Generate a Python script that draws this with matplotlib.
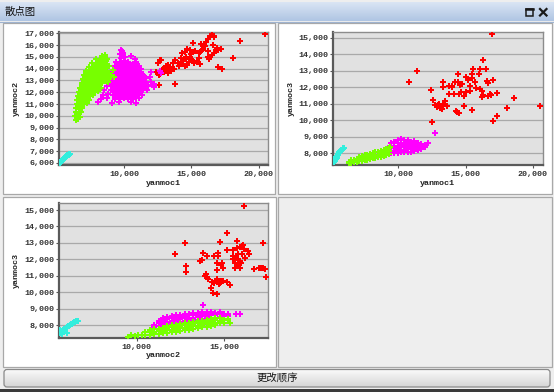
import matplotlib
matplotlib.use('Agg')
import matplotlib.pyplot as plt
from matplotlib.patches import Rectangle, FancyBboxPatch
from matplotlib.colors import LinearSegmentedColormap
import numpy as np

plt.rcParams['font.family'] = ['Noto Sans CJK SC', 'DejaVu Sans']

# ---------------- data ----------------
window_title = '散点图'
button_text = '更改顺序'
var_names = ['yanmoc1', 'yanmoc2', 'yanmoc3']

colors = {'red': '#ff0000', 'magenta': '#ff00ff', 'green': '#77ff00', 'cyan': '#33eedd'}

# Panel 1: yanmoc1 (x) vs yanmoc2 (y)
p1_cyan = [(5230,6000),(5260,6050),(5300,6080),(5330,6130),(5370,6170),(5400,6200),(5440,6250),
           (5470,6290),(5510,6330),(5540,6360),(5580,6400),(5620,6450),(5650,6480),(5690,6520),
           (5720,6560),(5760,6600),(5800,6640),(5840,6680),(5880,6720),(5920,6750),(5960,6790),
           (5250,6040),(5350,6110),(5450,6230),(5560,6390)]
p1_green = [(6400,9650),(6560,9700),(6380,9950),(6600,10000),(6740,9900),
            (6420,10300),(6650,10280),(6800,10350),(6500,10150),
            (6450,10650),(6700,10600),(6900,10700),(6600,10850),(6850,10850),
            (6480,11000),(6760,11050),(7000,10980),(7250,11100),
            (6520,11350),(6800,11300),(7100,11400),(7400,11350),
            (6650,11525),(6950,11525),(7250,11525),
            (6580,11700),(6850,11750),(7150,11650),(7450,11700),(7700,11750),
            (6750,11875),(7000,11875),(7300,11875),(7600,11875),
            (6650,12050),(6950,12000),(7250,12100),(7550,12050),(7850,12000),(8100,12100),
            (6850,12225),(7150,12225),(7450,12225),(7750,12225),(8000,12225),
            (6750,12400),(7050,12450),(7350,12350),(7650,12400),(7950,12450),(8300,12400),
            (6900,12575),(7200,12575),(7500,12575),(7800,12575),(8150,12575),
            (6850,12750),(7150,12800),(7450,12700),(7750,12750),(8050,12800),(8400,12750),(8800,12850),
            (7000,12925),(7300,12925),(7600,12925),(7900,12925),(8250,12925),(8650,12925),
            (6950,13100),(7250,13050),(7550,13150),(7850,13100),(8150,13050),(8500,13150),(8900,13100),
            (7150,13275),(7400,13275),(7700,13275),(8000,13275),(8350,13275),(8750,13275),
            (7050,13450),(7350,13500),(7650,13400),(7950,13450),(8250,13500),(8600,13400),(9000,13500),
            (7300,13625),(7600,13625),(7900,13625),(8200,13625),(8500,13625),(8850,13625),
            (7200,13800),(7500,13850),(7800,13750),(8100,13800),(8400,13850),(8750,13800),
            (7550,13975),(7850,13975),(8150,13975),(8450,13975),
            (7400,14150),(7700,14100),(8000,14200),(8300,14150),(8600,14100),(8900,14200),
            (7800,14325),(8100,14325),(8400,14325),(8700,14325),
            (7650,14500),(7950,14450),(8250,14550),(8550,14500),
            (8050,14675),(8350,14675),(8650,14675),
            (7900,14850),(8200,14800),(8500,14900),(8750,14850),
            (8600,15150),(8400,15050),(9250,13300),(9200,13900)]
p1_magenta = [(9750,15600),(9880,15500),(9700,15250),(9950,15300),
              (9750,14900),(10050,14950),(10550,15050),(10800,14850),
              (9400,14600),(9700,14550),(10000,14650),(10300,14600),(10900,14550),
              (9450,14425),(9750,14425),(10050,14425),(10350,14425),(10650,14425),(10950,14425),
              (9300,14250),(9600,14300),(9900,14200),(10200,14250),(10500,14300),(10800,14200),(11100,14250),
              (9300,14075),(9600,14075),(9900,14075),(10200,14075),(10500,14075),(10800,14075),(11100,14075),
              (9150,13900),(9450,13950),(9750,13850),(10050,13900),(10350,13950),(10650,13850),(10950,13900),(11250,13950),
              (9150,13725),(9450,13725),(9750,13725),(10050,13725),(10350,13725),(10650,13725),(10950,13725),(11250,13725),
              (9000,13550),(9300,13600),(9600,13500),(9900,13550),(10200,13600),(10500,13500),(10800,13550),(11100,13600),(11400,13500),
              (9050,13375),(9350,13375),(9650,13375),(9950,13375),(10250,13375),(10550,13375),(10850,13375),(11150,13375),(11450,13375),
              (8900,13200),(9200,13250),(9500,13150),(9800,13200),(10100,13250),(10400,13150),(10700,13200),(11000,13250),(11300,13150),(11600,13200),
              (9100,13025),(9400,13025),(9700,13025),(10000,13025),(10300,13025),(10600,13025),(10900,13025),(11200,13025),(11500,13025),
              (8950,12850),(9250,12900),(9550,12800),(9850,12850),(10150,12900),(10450,12800),(10750,12850),(11050,12900),(11350,12800),(11650,12850),(12000,12900),
              (9250,12675),(9550,12675),(9850,12675),(10150,12675),(10450,12675),(10750,12675),(11050,12675),(11350,12675),(11650,12675),
              (8700,12500),(9100,12550),(9400,12450),(9700,12500),(10000,12550),(10300,12450),(10600,12500),(10900,12550),(11200,12450),(11500,12500),(11800,12550),(12200,12450),
              (9150,12325),(9450,12325),(9750,12325),(10050,12325),(10350,12325),(10650,12325),(10950,12325),(11250,12325),(11550,12325),
              (8500,12150),(9000,12200),(9300,12100),(9600,12150),(9900,12200),(10200,12100),(10500,12150),(10800,12200),(11100,12100),(11400,12150),(11700,12200),
              (9350,11975),(9650,11975),(9950,11975),(10250,11975),(10550,11975),(10850,11975),(11150,11975),
              (8450,11800),(8800,11850),(9200,11750),(9500,11800),(9800,11850),(10100,11750),(10400,11800),(10700,11850),(11000,11750),(11300,11800),
              (9500,11625),(9850,11625),(10150,11625),(10550,11625),(10900,11625),
              (8300,11450),(8700,11500),(9300,11400),(9700,11450),(10000,11500),(10300,11400),(10700,11450),(11100,11500),
              (8100,11150),(9100,11100),(9600,11200),(10500,11150),(10900,11100),
              (12030,13750),(12250,12700),(11900,13300),(12700,13800),(12750,13650),(12050,12600),(12200,12550)]
p1_red = [(20500,16950),(18600,16350),(16500,16850),(16650,16800),(16400,16750),(16700,16650),(16550,16900),
          (16250,16550),(16600,16000),(15150,16150),(16000,15950),(15900,15700),(16200,15500),(14900,15600),
          (14500,15450),(14700,15650),(15100,15400),(15300,15500),(15600,15300),(15800,15550),(16900,15750),
          (17200,15700),(17000,15600),(16500,15150),(16700,15300),(18100,14900),(17000,14100),(17300,14000),
          (14200,14900),(14400,14650),(14600,14800),(14800,14550),(14900,14950),(15050,14700),(14300,14400),
          (14700,14300),(15400,14600),(15200,14450),(13800,14700),(13600,14500),(13300,14350),(13100,14250),
          (13000,14050),(13400,14100),(13200,13900),(13500,13800),(13700,14000),(12900,13950),(13300,13600),
          (13000,13700),(12500,14450),(12700,14700),(12600,13500),(12400,13750),(13800,12700),(12600,12650),
          (14100,14200),(14000,14500),(14200,14550),(14500,14250),(15600,14900),(16200,15000),(16100,16300),
          (15700,16100),(16300,14800),(15000,15250),(16850,15590),(15620,15450),(14330,15360),(14630,14970),
          (15120,14690),(15620,14400),(13270,13760),(12650,13560),(12770,14740)]

# Panel 2: yanmoc1 (x) vs yanmoc3 (y)
p2_cyan = [(5240,7500),(5270,7560),(5300,7620),(5330,7650),(5360,7700),(5400,7760),(5430,7800),(5470,7860),
           (5500,7900),(5540,7950),(5580,8000),(5620,8050),(5660,8100),(5700,8140),(5750,8180),(5800,8220),
           (5850,8260),(5900,8290),(5960,8310),(5280,7600),(5320,7560),(5260,7640),(5380,7680),(5450,7740)]
p2_green = [(6300,7400),(6300,7500),(6500,7420),(6500,7570),(6700,7450),(6700,7600),(6900,7500),(6900,7650),
            (7100,7520),(7100,7680),(7100,7800),(7300,7560),(7300,7700),(7300,7850),(7500,7600),(7500,7750),(7500,7880),
            (7700,7620),(7700,7780),(7700,7920),(7900,7660),(7900,7820),(7900,7960),(8100,7700),(8100,7850),(8100,8000),
            (8300,7730),(8300,7880),(8300,8050),(8500,7760),(8500,7920),(8500,8080),(8700,7800),(8700,7960),(8700,8150),
            (8900,7850),(8900,8000),(8900,8200),(9100,7900),(9100,8060),(9100,8250),(9300,7950),(9300,8150),(9300,8330),
            (9380,8400)]
p2_magenta = [(9200,8000),(9200,8150),(9200,8300),
              (9450,8000),(9450,8150),(9450,8300),(9450,8450),(9450,8600),
              (9700,8000),(9700,8150),(9700,8300),(9700,8450),(9700,8600),(9700,8700),
              (9950,8020),(9950,8170),(9950,8320),(9950,8470),(9950,8620),(9950,8800),
              (10200,8050),(10200,8200),(10200,8350),(10200,8500),(10200,8650),(10200,8850),
              (10450,8050),(10450,8200),(10450,8350),(10450,8500),(10450,8650),(10450,8800),
              (10700,8080),(10700,8230),(10700,8380),(10700,8530),(10700,8680),(10700,8820),
              (10950,8100),(10950,8250),(10950,8400),(10950,8550),(10950,8700),
              (11200,8150),(11200,8300),(11200,8450),(11200,8600),(11200,8750),
              (11450,8200),(11450,8350),(11450,8500),(11450,8650),
              (11700,8250),(11700,8400),(11700,8550),(11950,8350),(11950,8500),(12230,8600),(12750,9250)]
p2_red = [(16990,15230),(11370,13000),(10800,12300),(16280,13650),(16080,13090),(16520,13090),(15580,13090),
          (16030,12790),(14460,12790),(17070,12440),(16600,12400),(16650,12250),(14200,12300),(14450,12320),
          (14600,12150),(14750,12200),(13350,12340),(13770,12100),(13990,12080),(15000,12600),(15150,12450),
          (15500,12550),(15700,12300),(15300,12100),(15750,11950),(12400,11850),(13300,12000),(13780,11600),
          (14150,11600),(14500,11580),(14700,11700),(15000,11700),(14850,11480),(16080,11900),(16200,11750),
          (16280,11500),(16200,11400),(16700,11450),(16850,11600),(16900,11500),(17350,11650),(12600,11250),
          (12700,10950),(12900,10850),(13100,10750),(12850,10800),(13200,10850),(13350,10950),(13600,10850),
          (13500,11150),(14400,10500),(14500,10450),(14900,10850),(15450,10620),(18610,11370),(18100,10760),
          (20540,10880),(17370,10280),(17070,9960),(12480,9917),(13000,11000),(12950,10900),(14000,12000),
          (15300,11800),(15500,12800),(14300,10550),(13250,10700),(13450,11000)]

# Panel 3: yanmoc2 (x) vs yanmoc3 (y)
p3_cyan = [(5600,7500),(5630,7560),(5650,7620),(5700,7600),(5740,7650),(5800,7700),(5850,7740),(5900,7780),
           (5950,7830),(6000,7870),(6060,7920),(6120,7960),(6180,8000),(6240,8050),(6300,8090),(6360,8130),
           (6420,8170),(6480,8200),(6550,8240),(6620,8270),(5580,7600),(5620,7700),(5990,7500),(5750,7480)]
p3_green = [(9500,7300),(9700,7380),(9900,7350),(10100,7420),(10300,7400),(10500,7400),(10500,7550),
            (10750,7420),(10750,7580),(10750,7700),(11000,7450),(11000,7600),(11000,7750),
            (11250,7480),(11250,7630),(11250,7780),(11500,7500),(11500,7650),(11500,7800),
            (11750,7530),(11750,7680),(11750,7830),(11750,7950),(12000,7560),(12000,7710),(12000,7860),(12000,7980),
            (12250,7600),(12250,7750),(12250,7900),(12250,8020),(12500,7640),(12500,7790),(12500,7940),(12500,8060),
            (12750,7680),(12750,7830),(12750,7980),(12750,8100),(13000,7720),(13000,7870),(13000,8020),(13000,8140),
            (13250,7760),(13250,7910),(13250,8060),(13250,8180),(13500,7800),(13500,7950),(13500,8100),(13500,8220),
            (13750,7850),(13750,8000),(13750,8150),(13750,8260),(14000,7900),(14000,8050),(14000,8200),(14000,8300),
            (14250,7950),(14250,8100),(14250,8250),(14250,8350),(14500,8000),(14500,8150),(14500,8300),(14500,8400),
            (14750,8100),(14750,8250),(14750,8400),(15000,8150),(15000,8300),(15250,8350),(15350,8100)]
p3_magenta = [(11000,7900),(11000,8000),(11250,7950),(11250,8100),(11250,8250),
              (11500,8000),(11500,8150),(11500,8300),(11500,8400),(11750,8050),(11750,8200),(11750,8350),(11750,8500),
              (12000,8100),(12000,8250),(12000,8400),(12000,8550),(12250,8150),(12250,8300),(12250,8450),(12250,8600),
              (12500,8200),(12500,8350),(12500,8500),(12500,8620),(12750,8250),(12750,8400),(12750,8550),(12750,8650),
              (13000,8280),(13000,8430),(13000,8580),(13000,8700),(13250,8300),(13250,8450),(13250,8600),(13250,8720),
              (13500,8330),(13500,8480),(13500,8630),(13500,8760),(13750,8380),(13750,8530),(13750,8680),(13750,8800),
              (14000,8400),(14000,8550),(14000,8700),(14000,8820),(14250,8430),(14250,8580),(14250,8730),(14250,8800),
              (14500,8450),(14500,8600),(14500,8750),(14750,8500),(14750,8650),(14750,8780),
              (15000,8520),(15000,8680),(15250,8550),(15250,8700),(15700,8680),(15900,8680),(13800,9220)]
p3_red = [(16150,15247),(12768,12975),(12195,12305),(12825,11615),(12825,11250),(15157,13620),(14773,13030),
          (13630,11880),(13725,11950),(13780,12380),(14050,12200),(14430,12200),(14680,12380),(14680,12200),
          (15157,12590),(14580,11750),(14850,11650),(14900,11750),(14600,11340),(14950,11500),(14000,10900),
          (14080,10800),(14300,10620),(14500,10700),(14600,10800),(14400,10550),(14700,10650),(14850,10700),
          (14950,10650),(15150,10620),(15350,10450),(14240,10270),(14350,9960),(14600,9900),(14770,10570),
          (14720,10500),(15530,12550),(15760,12700),(15900,12750),(16050,12780),(16120,12600),(15800,12300),
          (16050,12330),(15700,12100),(15530,12000),(15630,11800),(15800,11700),(15900,11900),(15730,11600),
          (15630,11450),(15900,11500),(16000,11800),(16200,12100),(15800,12000),(15530,12200),(16400,12500),
          (16450,12350),(15765,13116),(16100,12850),(17220,12990),(16720,11400),(17025,11450),(17150,11480),
          (17250,11450),(17350,11400),(17100,11500),(17410,10900),(13900,11000),(13950,11080)]

p1_xticks = [10000, 15000, 20000]
p1_yticks = [6000, 7000, 8000, 9000, 10000, 11000, 12000, 13000, 14000, 15000, 16000, 17000]
p2_xticks = [10000, 15000, 20000]
p2_yticks = [8000, 9000, 10000, 11000, 12000, 13000, 14000, 15000]
p3_xticks = [10000, 15000]
p3_yticks = [8000, 9000, 10000, 11000, 12000, 13000, 14000, 15000]

# ---------------- figure ----------------
W, H = 554, 392
fig = plt.figure(figsize=(W / 100, H / 100), dpi=100)
fig.patch.set_facecolor('#eeeeee')

bg = fig.add_axes([0, 0, 1, 1])
bg.set_xlim(0, W)
bg.set_ylim(H, 0)
bg.axis('off')

# title bar
tcmap = LinearSegmentedColormap.from_list('t', ['#dae5f4', '#afc5e3'])
bg.imshow(np.linspace(0, 1, 32).reshape(-1, 1), extent=(0, W, 21, 2), cmap=tcmap,
          aspect='auto', origin='upper', zorder=1)
bg.plot([0, W], [21.5, 21.5], color='#9fb3cf', lw=0.8, zorder=2)
bg.text(5, 11.5, window_title, ha='left', va='center', fontsize=7.5, color='#111111', zorder=3)
bg.add_patch(Rectangle((525.5, 8.5), 7.5, 7.5, fill=False, ec='#1a1a1a', lw=1.1, zorder=3))
bg.plot([525.5, 533], [9.2, 9.2], color='#1a1a1a', lw=1.8, zorder=3)
bg.plot([540, 546.5], [9, 15.5], color='#1a1a1a', lw=1.6, zorder=3)
bg.plot([540, 546.5], [15.5, 9], color='#1a1a1a', lw=1.6, zorder=3)

# panels
for (x0, y0, w, h, fc) in [(3, 23, 272, 171, 'white'), (277.5, 23, 274, 171, 'white'),
                           (3, 196.5, 273, 170.5, 'white'), (277.5, 196.5, 274, 170.5, '#eeeeee')]:
    bg.add_patch(Rectangle((x0, y0), w, h, fc=fc, ec='#a8a8a8', lw=0.9, zorder=1))

# button
btn = FancyBboxPatch((4, 369.5), 546, 17.5, boxstyle='round,pad=0,rounding_size=3',
                     fc='none', ec='#8a8a8a', lw=0.9, zorder=3)
bg.add_patch(btn)
bcmap = LinearSegmentedColormap.from_list('b', ['#fbfbfb', '#d6d6d6'])
im = bg.imshow(np.linspace(0, 1, 32).reshape(-1, 1), extent=(4, 550, 387, 369.5), cmap=bcmap,
               aspect='auto', origin='upper', zorder=2)
im.set_clip_path(btn)
bg.text(277, 378.3, button_text, ha='center', va='center', fontsize=7.5, color='#111111', zorder=4)
bg.add_patch(Rectangle((0, 389), W, 3, fc='#3a3a3a', ec='none', zorder=3))

MONO = 'Liberation Mono'


def make_panel(px_rect, xlim, ylim, xticks, yticks, xlabel, ylabel, xlab_y, ylab_x, series):
    l, t, r, b = px_rect
    ax = fig.add_axes([l / W, 1 - b / H, (r - l) / W, (b - t) / H])
    ax.set_facecolor('#e1e1e1')
    ax.set_xlim(*xlim)
    ax.set_ylim(*ylim)
    ax.set_xticks(xticks)
    ax.set_yticks(yticks)
    ax.set_xticklabels([f'{v:,}' for v in xticks])
    ax.set_yticklabels([f'{v:,}' for v in yticks])
    for lb in ax.get_xticklabels() + ax.get_yticklabels():
        lb.set_fontfamily(MONO)
        lb.set_fontweight('bold')
        lb.set_fontsize(6)
        lb.set_color('#333333')
    ax.tick_params(axis='x', length=2, width=0.8, color='#555555', pad=2.5)
    ax.tick_params(axis='y', length=2, width=0.8, color='#555555', pad=1.2)
    ax.grid(axis='y', color='#a9a9a9', lw=0.9)
    ax.grid(axis='x', visible=False)
    ax.set_axisbelow(True)
    for s in ['left', 'bottom']:
        ax.spines[s].set_color('#5a5a5a')
        ax.spines[s].set_linewidth(1.6)
    for s in ['top', 'right']:
        ax.spines[s].set_color('#8c8c8c')
        ax.spines[s].set_linewidth(1.0)
    for pts, col in series:
        xs = [p[0] for p in pts]
        ys = [p[1] for p in pts]
        ax.scatter(xs, ys, s=13, marker='P', c=col, linewidths=0, zorder=3)
    ax.set_xlabel(xlabel, fontfamily=MONO, fontsize=6, fontweight='bold', color='#222222')
    ax.set_ylabel(ylabel, fontfamily=MONO, fontsize=6, fontweight='bold', color='#222222')
    ax.xaxis.set_label_coords(0.5, (b - xlab_y) / (b - t))
    ax.xaxis.label.set_va('center')
    ax.yaxis.set_label_coords((ylab_x - l) / (r - l), 0.5)
    ax.yaxis.label.set_va('center')
    return ax


make_panel((59, 32, 268, 165), (5170, 20690), (5830, 17110), p1_xticks, p1_yticks,
           var_names[0], var_names[1], 183.3, 16.7,
           [(p1_red, colors['red']), (p1_magenta, colors['magenta']),
            (p1_green, colors['green']), (p1_cyan, colors['cyan'])])
make_panel((332.7, 31.7, 542.7, 165), (5120, 20740), (7290, 15360), p2_xticks, p2_yticks,
           var_names[0], var_names[2], 183.3, 291.7,
           [(p2_red, colors['red']), (p2_magenta, colors['magenta']),
            (p2_green, colors['green']), (p2_cyan, colors['cyan'])])
make_panel((58.7, 203.3, 268.3, 337.7), (5533, 17537), (7227, 15408), p3_xticks, p3_yticks,
           var_names[1], var_names[2], 355.7, 16.7,
           [(p3_red, colors['red']), (p3_magenta, colors['magenta']),
            (p3_green, colors['green']), (p3_cyan, colors['cyan'])])

fig.savefig('out.png', dpi=100, facecolor=fig.get_facecolor())
